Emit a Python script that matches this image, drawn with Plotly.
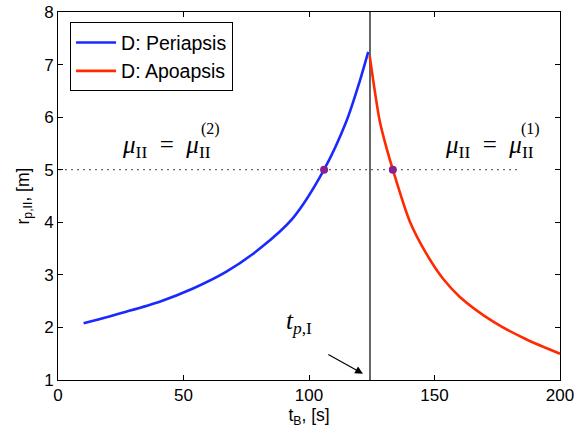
import plotly.graph_objects as go

# Periapsis branch (blue)
t_peri = [10.2, 27.2, 40.5, 53.8, 67.1, 80.4, 93.6, 106.0, 114.9, 120.2, 123.6]
r_peri = [2.08, 2.30, 2.49, 2.74, 3.06, 3.50, 4.08, 5.0, 5.92, 6.68, 7.24]

# Apoapsis branch (red)
t_apo = [124.2, 128.2, 130.9, 133.4, 140.2, 146.8, 153.5, 160.1, 173.4, 186.7, 200.0]
r_apo = [7.16, 5.92, 5.41, 5.0, 4.01, 3.40, 2.92, 2.58, 2.11, 1.77, 1.50]

# crossing points at mu_II levels
t_cross = [106.0, 133.4]
r_cross = [5.0, 5.0]

# reference lines
r_level = 5.0
t_level = [0.5, 183.0]
t_pI = 124.3

x_ticks = [0, 50, 100, 150, 200]
y_ticks = [1, 2, 3, 4, 5, 6, 7, 8]

SANS = "Liberation Sans, Arial, Helvetica, sans-serif"
SERIF = "Liberation Serif, DejaVu Serif, serif"

fig = go.Figure()
fig.add_trace(go.Scatter(x=t_level, y=[r_level, r_level], mode="lines",
                         line=dict(color="black", width=1, dash="1.5px,4.5px"),
                         showlegend=False, hoverinfo="skip"))
fig.add_trace(go.Scatter(x=[t_pI, t_pI], y=[1, 8], mode="lines",
                         line=dict(color="black", width=1.2),
                         showlegend=False, hoverinfo="skip"))
fig.add_trace(go.Scatter(x=t_peri, y=r_peri, mode="lines", name="D: Periapsis",
                         line=dict(color="#1a2aff", width=2.6, shape="spline", smoothing=0.8)))
fig.add_trace(go.Scatter(x=t_apo, y=r_apo, mode="lines", name="D: Apoapsis",
                         line=dict(color="#ff2a00", width=2.6, shape="spline", smoothing=0.8)))
fig.add_trace(go.Scatter(x=t_cross, y=r_cross, mode="markers",
                         marker=dict(color="#8a1f8f", size=8),
                         showlegend=False))

serif = dict(family=SERIF, size=25, color="black")
serif_small = dict(family=SERIF, size=16, color="black")
EQ = "<i>μ</i><sub>II</sub>\u2002=\u2002<i>μ</i><sub>II</sub>"
# left label mu_II = mu_II^(2)
fig.add_annotation(x=24.5, y=5.44, xref="x", yref="y", xanchor="left", yanchor="middle",
                   showarrow=False, text=EQ, font=serif)
fig.add_annotation(x=60.9, y=5.77, xref="x", yref="y", xanchor="center", yanchor="middle",
                   showarrow=False, text="(2)", font=serif_small)
# right label mu_II = mu_II^(1)
fig.add_annotation(x=153.3, y=5.44, xref="x", yref="y", xanchor="left", yanchor="middle",
                   showarrow=False, text=EQ, font=serif)
fig.add_annotation(x=188.4, y=5.77, xref="x", yref="y", xanchor="center", yanchor="middle",
                   showarrow=False, text="(1)", font=serif_small)
# t_p,I arrow and label
fig.add_annotation(x=121.5, y=1.12, ax=107.1, ay=1.5, xref="x", yref="y",
                   axref="x", ayref="y", showarrow=True, arrowhead=2,
                   arrowsize=1.3, arrowwidth=1.2, arrowcolor="black", text="")
fig.add_annotation(x=96, y=2.1, xref="x", yref="y", showarrow=False,
                   text="<i>t</i><sub><i>p</i>,I</sub>", font=serif)

axis_common = dict(showline=True, linecolor="black", linewidth=1, mirror="ticks",
                   ticks="inside", ticklen=5, tickcolor="black", showgrid=False,
                   zeroline=False, automargin=False, ticklabeloverflow="allow",
                   tickfont=dict(family=SANS, size=17, color="black"))
fig.update_xaxes(range=[0, 200], tickvals=x_ticks,
                 title=dict(text="t<sub>B</sub>, [s]", standoff=0,
                            font=dict(family=SANS, size=17.5, color="black")),
                 **axis_common)
fig.update_yaxes(range=[1, 8], tickvals=y_ticks,
                 title=dict(text="r<sub>p,II</sub>, [m]", standoff=10,
                            font=dict(family=SANS, size=17.5, color="black")),
                 **axis_common)

fig.update_layout(
    width=574, height=431,
    margin=dict(l=58, r=14, t=12, b=51, autoexpand=False),
    plot_bgcolor="white", paper_bgcolor="white",
    legend=dict(x=0.024, y=0.972, xanchor="left", yanchor="top",
                bgcolor="white", bordercolor="black", borderwidth=1,
                font=dict(family=SANS, size=19.5, color="black"),
                tracegroupgap=0, itemwidth=40),
)

fig.write_html("out.html")
